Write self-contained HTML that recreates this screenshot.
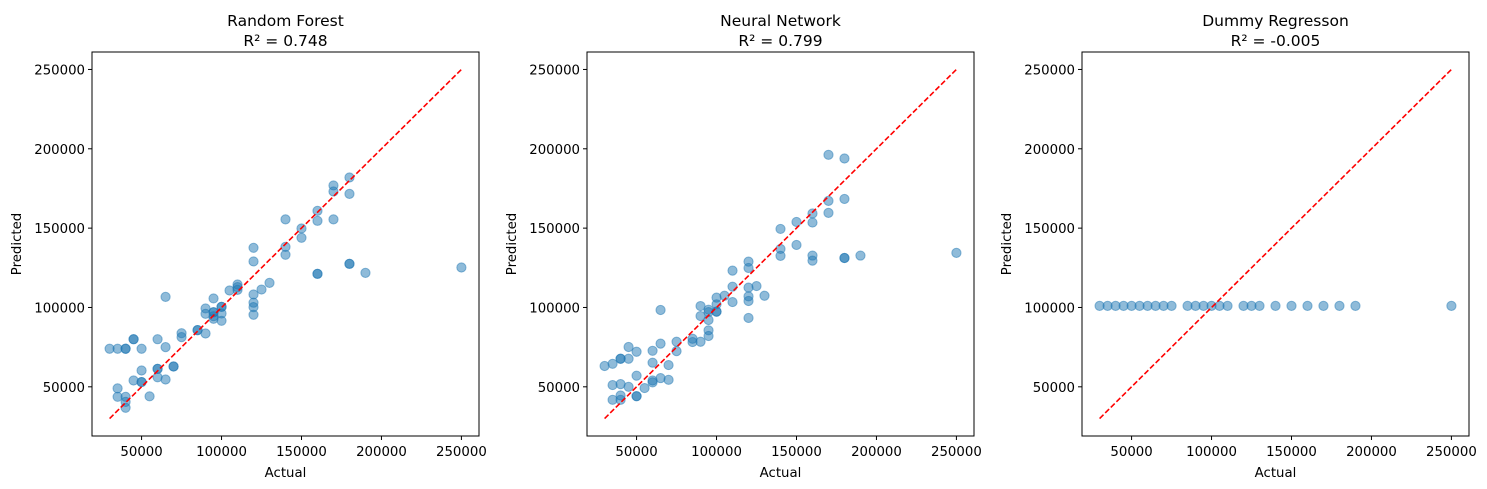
<!DOCTYPE html>
<html><head><meta charset="utf-8">
<style>
body{margin:0;background:#fff;}
svg{display:block;font-family:"DejaVu Sans","Liberation Sans",sans-serif;}
</style></head>
<body>
<svg id="chart" width="1487" height="489" viewBox="0 0 1487 489"></svg>
<script>
const xTicks = [50000, 100000, 150000, 200000, 250000];
const yTicks = [50000, 100000, 150000, 200000, 250000];
const titles = ["Random Forest", "Neural Network", "Dummy Regresson"];
const r2Labels = ["R² = 0.748", "R² = 0.799", "R² = -0.005"];
const rfActual = [30000,35000,40000,40000,45000,45000,50000,50000,45000,50000,50000,35000,35000,40000,40000,40000,55000,60000,60000,60000,60000,65000,65000,65000,70000,70000,75000,75000,85000,85000,90000,90000,90000,95000,95000,95000,95000,95000,100000,100000,100000,100000,105000,110000,110000,110000,120000,120000,120000,120000,120000,120000,125000,130000,140000,140000,140000,150000,150000,160000,160000,160000,160000,170000,170000,170000,180000,180000,180000,180000,190000,250000];
const rfPred = [74000,74000,74000,74000,80000,80000,74000,60300,54000,53000,53000,49000,43700,43700,40500,36800,44000,80000,61300,61300,56000,75000,54600,106700,62800,62800,83800,81300,85700,85700,99400,96000,83600,105700,97000,97000,94500,92900,100400,100400,96200,91600,110700,114500,112800,111100,137600,129000,108200,103000,100200,95400,111300,115500,155500,138200,133200,149800,143900,160900,154600,121200,121200,176900,173100,155500,181900,171600,127500,127500,121800,125200];
const nnActual = [30000,35000,35000,35000,40000,40000,40000,40000,40000,45000,45000,45000,50000,50000,50000,50000,55000,60000,60000,60000,60000,65000,65000,65000,70000,70000,75000,75000,85000,85000,90000,90000,90000,95000,95000,95000,95000,95000,100000,100000,100000,100000,105000,110000,110000,110000,120000,120000,120000,120000,120000,120000,125000,130000,140000,140000,140000,150000,150000,160000,160000,160000,160000,170000,170000,170000,180000,180000,180000,180000,190000,250000];
const nnPred = [63100,64500,51100,41800,67700,67700,51700,44500,41800,75100,67700,50000,72100,57000,44100,44100,49200,72700,65200,54000,52800,98400,77200,55500,63700,54400,78400,72500,80300,78200,100900,94600,78400,98600,97100,92100,85600,82000,106200,102000,97400,97400,107400,123200,113100,103400,128900,124900,112500,107000,104100,93400,113500,107400,149500,136900,132500,153900,139400,159200,153500,132700,129500,196200,167200,159600,193900,168400,131200,131200,132700,134400];
const dummyActual = [30000,35000,40000,45000,50000,55000,60000,65000,70000,75000,85000,90000,95000,100000,105000,110000,120000,125000,130000,140000,150000,160000,170000,180000,190000,250000];
const dummyPred = [101000,101000,101000,101000,101000,101000,101000,101000,101000,101000,101000,101000,101000,101000,101000,101000,101000,101000,101000,101000,101000,101000,101000,101000,101000,101000];
const diagLine = [30000, 250000];

const NS = "http://www.w3.org/2000/svg";
const svg = document.getElementById("chart");
function mk(tag, attrs, parent){ const e=document.createElementNS(NS,tag); for(const k in attrs) e.setAttribute(k,attrs[k]); (parent||svg).appendChild(e); return e; }

const panelLefts = [92, 587, 1082];
const W = 387, TOP = 52, BOT = 436;
const XMIN = 19000, XMAX = 261000, YMIN = 19000, YMAX = 261000;
const panels = [[rfActual, rfPred],[nnActual, nnPred],[dummyActual, dummyPred]];
const panelNames = ["random-forest","neural-network","dummy-regressor"];

panels.forEach((p, i) => {
  const L = panelLefts[i];
  const g = mk("g", {});
  
  
  const sx = v => L + (v - XMIN) / (XMAX - XMIN) * W;
  const sy = v => BOT - (v - YMIN) / (YMAX - YMIN) * (BOT - TOP);
  const t = mk("text", {x: L + W/2, y: 26, "text-anchor": "middle", "font-size": 15.5, fill: "#000"}, g);
  t.textContent = titles[i];
  
  
  const t2 = mk("text", {x: L + W/2, y: 46, "text-anchor": "middle", "font-size": 15.5, fill: "#000"}, g);
  t2.textContent = r2Labels[i];
  
  
  const pts = mk("g", {}, g);
  
  
  p[0].forEach((a, j) => {
    const c = mk("circle", {cx: sx(a), cy: sy(p[1][j]), r: 4.6, fill: "#1f77b4", "fill-opacity": 0.5, stroke: "#1f77b4", "stroke-opacity": 0.5, "stroke-width": 1}, pts);
    
    
  });
  const d = mk("line", {x1: sx(diagLine[0]), y1: sy(diagLine[0]), x2: sx(diagLine[1]), y2: sy(diagLine[1]), stroke: "#ff0000", "stroke-width": 1.6, "stroke-dasharray": "5.5,2.4"}, g);
  
  
  const f = mk("rect", {x: L, y: TOP, width: W, height: BOT - TOP, fill: "none", stroke: "#000", "stroke-width": 1}, g);
  
  
  xTicks.forEach(v => {
    const x = sx(v);
    mk("line", {x1: x, y1: BOT, x2: x, y2: BOT + 4, stroke: "#000", "stroke-width": 1}, g);
    const tl = mk("text", {x: x, y: BOT + 20, "text-anchor": "middle", "font-size": 13.3, fill: "#000"}, g);
    tl.textContent = v;
    
    
  });
  yTicks.forEach(v => {
    const y = sy(v);
    mk("line", {x1: L, y1: y, x2: L - 4, y2: y, stroke: "#000", "stroke-width": 1}, g);
    const tl = mk("text", {x: L - 7, y: y + 5, "text-anchor": "end", "font-size": 13.3, fill: "#000"}, g);
    tl.textContent = v;
    
    
  });
  const xl = mk("text", {x: L + W/2, y: 477, "text-anchor": "middle", "font-size": 13.3, fill: "#000"}, g);
  xl.textContent = "Actual";
  
  
  const yl = mk("text", {x: 0, y: 0, "text-anchor": "middle", "font-size": 13.3, fill: "#000", transform: `translate(${L - 71},${(TOP+BOT)/2}) rotate(-90)`}, g);
  yl.textContent = "Predicted";
  
  
});
</script>
</body></html>
